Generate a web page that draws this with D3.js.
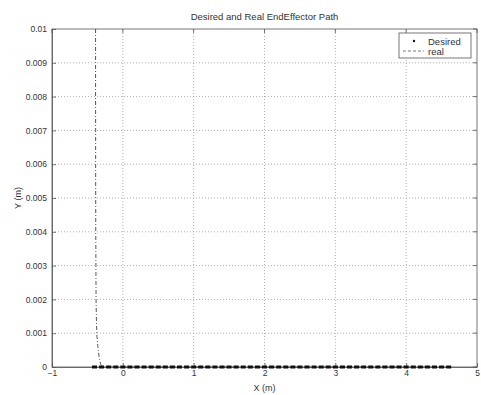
<!DOCTYPE html>
<html>
<head>
<meta charset="utf-8">
<script src="https://cdn.jsdelivr.net/npm/d3@7"></script>
<style>
  html, body { margin: 0; padding: 0; background: #fff; }
  svg { display: block; font-family: "Liberation Sans", Arial, sans-serif; }
</style>
</head>
<body>
<svg id="chart" width="481" height="395"></svg>
<script>
// Axis ticks
const xTicks = [-1, 0, 1, 2, 3, 4, 5];
const yTicks = [0, 0.001, 0.002, 0.003, 0.004, 0.005, 0.006, 0.007, 0.008, 0.009, 0.01];
const yTickLabels = ["0", "0.001", "0.002", "0.003", "0.004", "0.005", "0.006", "0.007", "0.008", "0.009", "0.01"];

// Desired end-effector path (markers along the floor)
const desiredX = [-0.4, -0.3, -0.2, -0.1, 0.0, 0.1, 0.2, 0.3, 0.4, 0.5, 0.6, 0.7, 0.8, 0.9,
  1.0, 1.1, 1.2, 1.3, 1.4, 1.5, 1.6, 1.7, 1.8, 1.9, 2.0, 2.1, 2.2, 2.3, 2.4, 2.5, 2.6, 2.7,
  2.8, 2.9, 3.0, 3.1, 3.2, 3.3, 3.4, 3.5, 3.6, 3.7, 3.8, 3.9, 4.0, 4.1, 4.2, 4.3, 4.4, 4.5, 4.6];
const desiredY = desiredX.map(() => 0);

// Real end-effector path
const realX = [-0.385, -0.385, -0.385, -0.384, -0.384, -0.383, -0.382, -0.380, -0.378,
  -0.372, -0.365, -0.352, -0.335, -0.315, -0.300, 0.0, 1.0, 2.0, 3.0, 4.0, 4.6];
const realY = [0.01, 0.009, 0.008, 0.007, 0.006, 0.005, 0.004, 0.003, 0.002,
  0.0013, 0.0009, 0.0006, 0.0003, 0.0001, 0.00002, 0, 0, 0, 0, 0, 0];

const svg = d3.select("#chart");
const margin = { left: 52, right: 4, top: 29, bottom: 28 };
const W = 481, H = 395;
const x = d3.scaleLinear().domain([-1, 5]).range([margin.left, W - margin.right]);
const y = d3.scaleLinear().domain([0, 0.01]).range([H - margin.bottom, margin.top]);

const textColor = "#333";
const gridColor = "#9a9a9a";
const axisColor = "#555";

// Grid
const grid = svg.append("g");
grid.selectAll("line.gx").data(xTicks.slice(1, -1)).join("line")
  .attr("x1", d => x(d)).attr("x2", d => x(d))
  .attr("y1", y(0)).attr("y2", y(0.01))
  .attr("stroke", gridColor).attr("stroke-width", 0.8).attr("stroke-dasharray", "1,2");
grid.selectAll("line.gy").data(yTicks.slice(1, -1)).join("line")
  .attr("x1", x(-1)).attr("x2", x(5))
  .attr("y1", d => y(d)).attr("y2", d => y(d))
  .attr("stroke", gridColor).attr("stroke-width", 0.8).attr("stroke-dasharray", "1,2");

// Frame
svg.append("rect")
  .attr("x", x(-1)).attr("y", y(0.01))
  .attr("width", x(5) - x(-1)).attr("height", y(0) - y(0.01))
  .attr("fill", "none").attr("stroke", axisColor).attr("stroke-width", 0.8);

// Axes with inward ticks
const xAxis = svg.append("g").attr("transform", `translate(0,${y(0)})`)
  .call(d3.axisBottom(x).tickValues(xTicks).tickFormat(d3.format("d"))
    .tickSizeInner(-4).tickSizeOuter(0).tickPadding(3));
const yAxis = svg.append("g").attr("transform", `translate(${x(-1)},0)`)
  .call(d3.axisLeft(y).tickValues(yTicks).tickFormat((d, i) => yTickLabels[i])
    .tickSizeInner(-4).tickSizeOuter(0).tickPadding(5));
[xAxis, yAxis].forEach(g => {
  g.select(".domain").attr("stroke", axisColor).attr("stroke-width", 0.8);
  g.selectAll(".tick line").attr("stroke", axisColor).attr("stroke-width", 0.8);
  g.selectAll(".tick text").attr("fill", textColor).attr("font-size", 8.5)
    .attr("font-family", "Liberation Sans, Arial, sans-serif");
});
// top and right inward ticks
svg.append("g").selectAll("line").data(xTicks).join("line")
  .attr("x1", d => x(d)).attr("x2", d => x(d))
  .attr("y1", y(0.01)).attr("y2", y(0.01) + 4).attr("stroke", axisColor).attr("stroke-width", 0.8);
svg.append("g").selectAll("line").data(yTicks).join("line")
  .attr("x1", x(5)).attr("x2", x(5) - 4)
  .attr("y1", d => y(d)).attr("y2", d => y(d)).attr("stroke", axisColor).attr("stroke-width", 0.8);

// Real path
const realPts = realX.map((v, i) => [v, realY[i]]);
svg.append("path")
  .attr("d", d3.line().x(d => x(d[0])).y(d => y(d[1]))(realPts))
  .attr("fill", "none").attr("stroke", "#555").attr("stroke-width", 1)
  .attr("stroke-dasharray", "4,2,1,2");

// Desired path markers
svg.append("g").selectAll("rect").data(desiredX).join("rect")
  .attr("x", d => x(d) - 2.5).attr("y", (d, i) => y(desiredY[i]) - 1.5)
  .attr("width", 5).attr("height", 3).attr("fill", "#111");

// Title and axis labels
svg.append("text").attr("x", (x(-1) + x(5)) / 2).attr("y", 20)
  .attr("text-anchor", "middle").attr("font-size", 9.5).attr("fill", textColor)
  .text("Desired and Real EndEffector Path");
svg.append("text").attr("x", (x(-1) + x(5)) / 2).attr("y", 391)
  .attr("text-anchor", "middle").attr("font-size", 9).attr("fill", textColor)
  .text("X (m)");
svg.append("text").attr("transform", `translate(21,${(y(0) + y(0.01)) / 2}) rotate(-90)`)
  .attr("text-anchor", "middle").attr("font-size", 9).attr("fill", textColor)
  .text("Y (m)");

// Legend
const lg = svg.append("g").attr("transform", "translate(399,33)");
lg.append("rect").attr("width", 72).attr("height", 25)
  .attr("fill", "#fff").attr("stroke", axisColor).attr("stroke-width", 0.8);
lg.append("circle").attr("cx", 15).attr("cy", 8).attr("r", 1.2).attr("fill", "#111");
lg.append("text").attr("x", 29).attr("y", 11.5).attr("font-size", 9.5).attr("fill", textColor).text("Desired");
lg.append("line").attr("x1", 4).attr("x2", 25).attr("y1", 18).attr("y2", 18)
  .attr("stroke", "#555").attr("stroke-width", 0.8).attr("stroke-dasharray", "3,2");
lg.append("text").attr("x", 29).attr("y", 21.5).attr("font-size", 9.5).attr("fill", textColor).text("real");
</script>
</body>
</html>
